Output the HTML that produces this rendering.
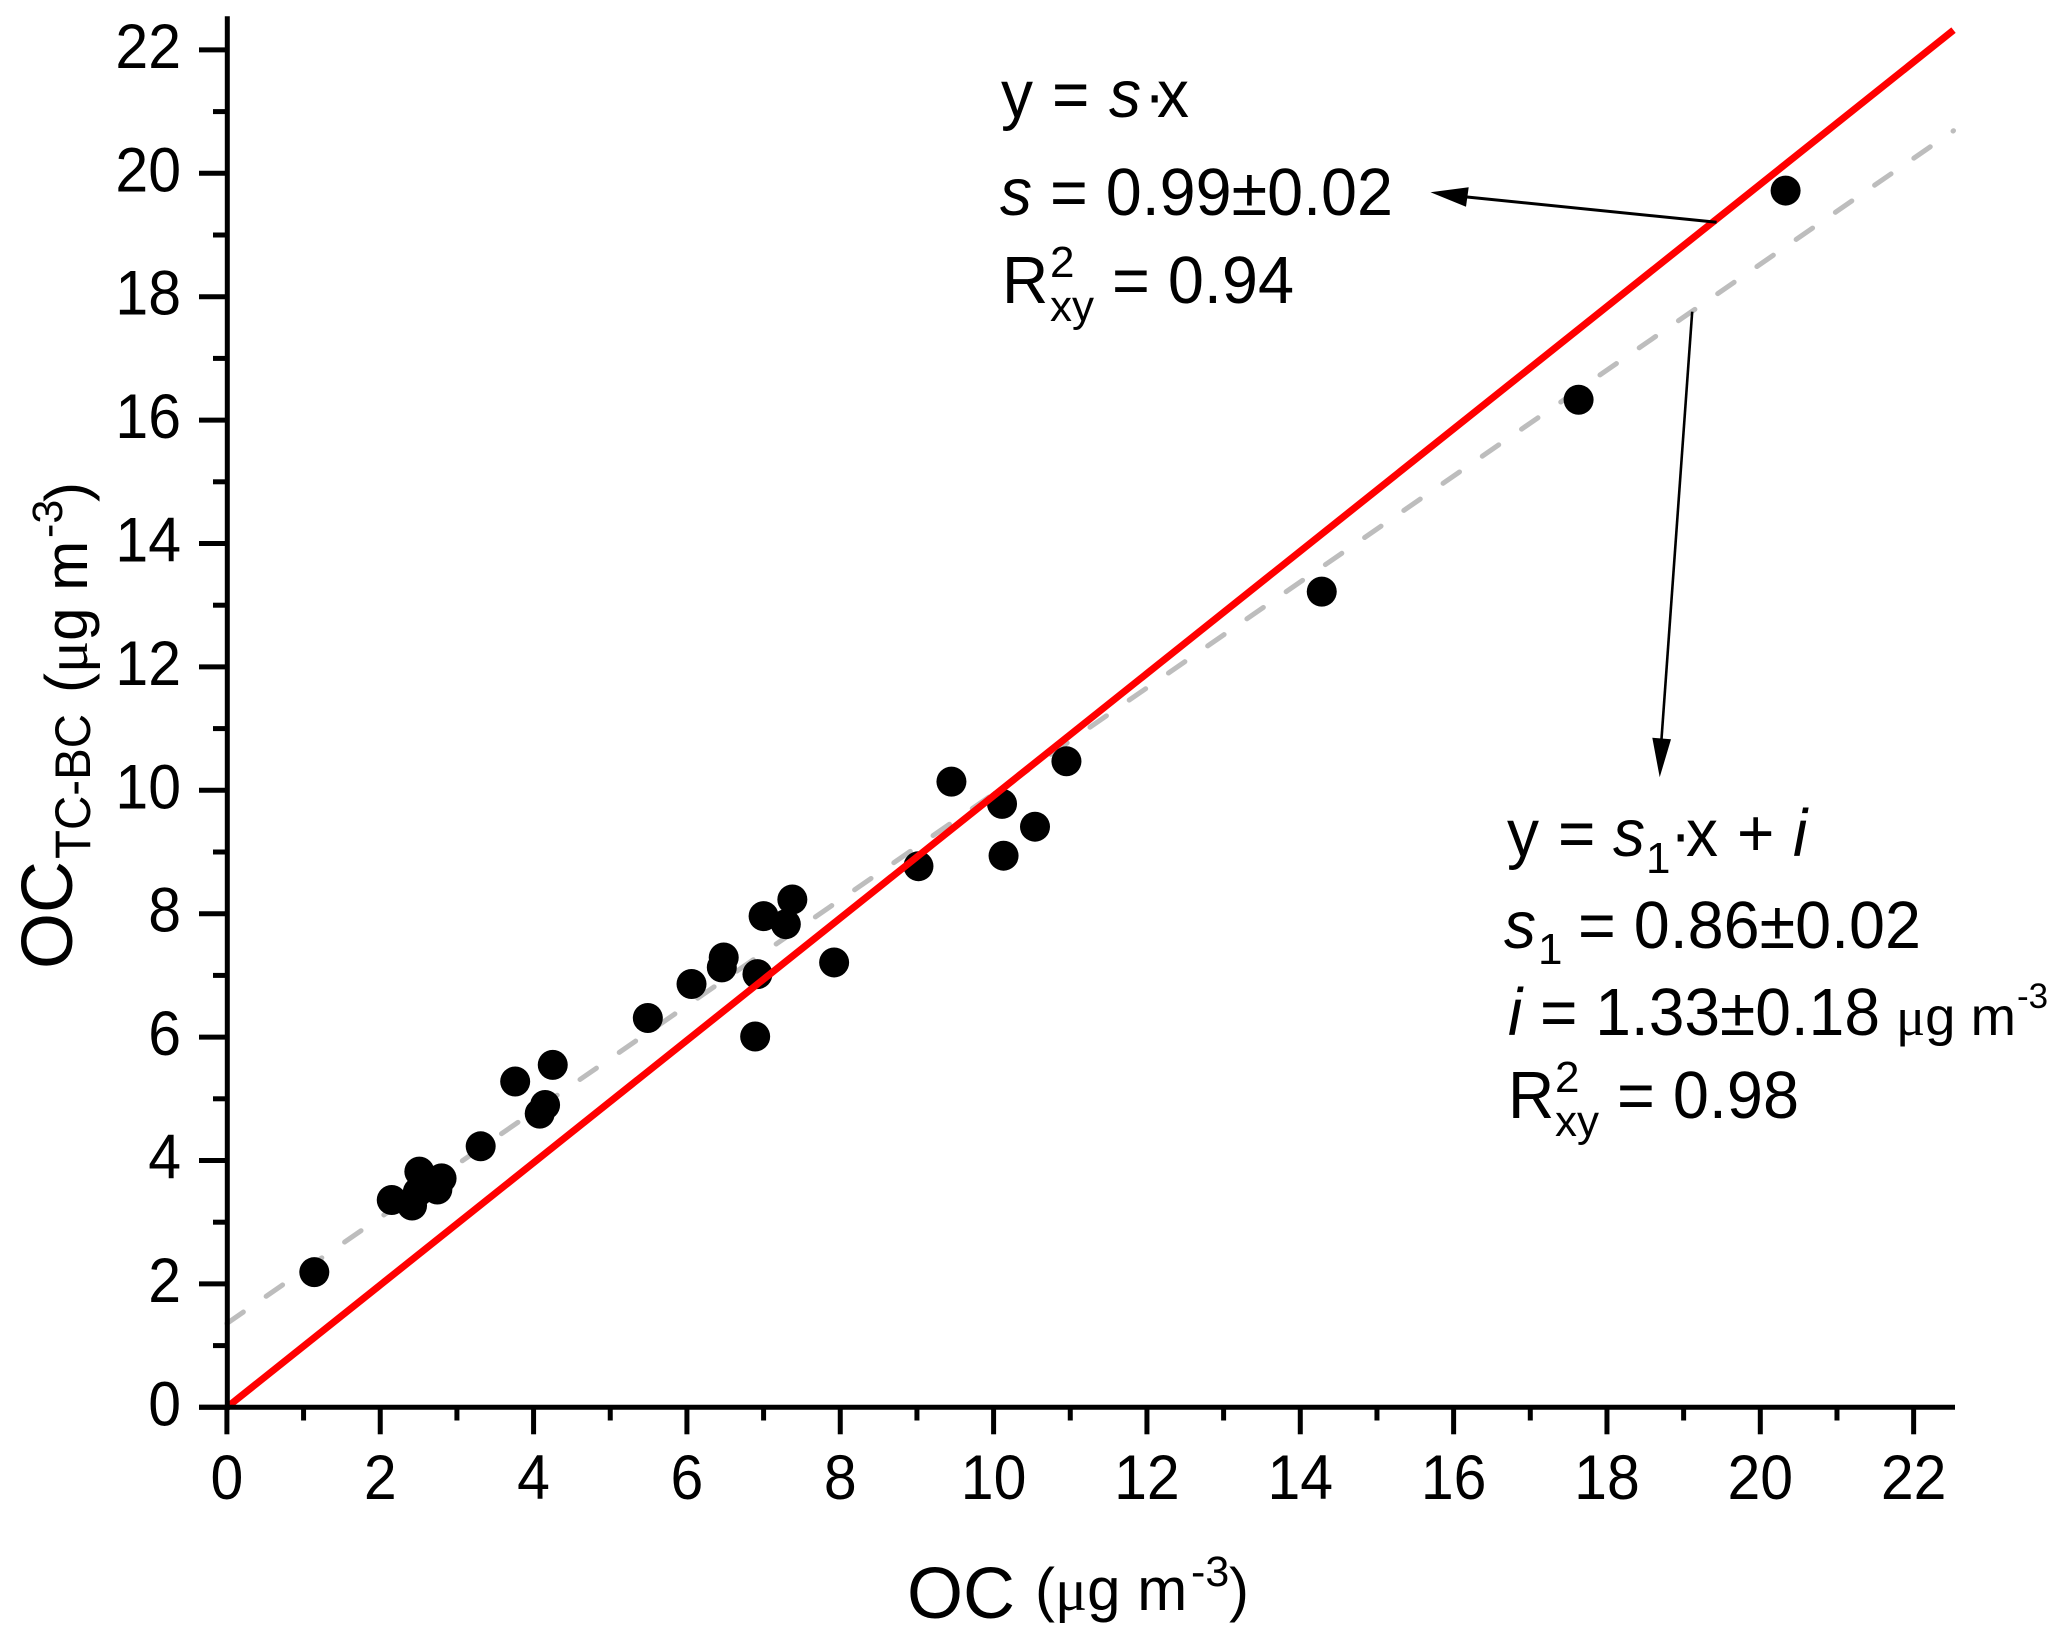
<!DOCTYPE html>
<html lang="en">
<head>
<meta charset="utf-8">
<title>OC TC-BC versus OC scatter chart</title>
<style>
html,body{margin:0;padding:0;background:#fff;}
svg{display:block;}
text{font-family:"Liberation Sans",sans-serif;fill:#000;}
.serif{font-family:"Liberation Serif",serif;}
.ann{font-size:67px;}
.sub{font-size:44px;}
</style>
</head>
<body>
<svg id="chart" xmlns="http://www.w3.org/2000/svg" width="2067" height="1641" viewBox="0 0 2067 1641">
  <rect x="0" y="0" width="2067" height="1641" fill="#ffffff"/>
  <g id="fit-gray-layer"></g>
  <g id="points-layer"></g>
  <g id="fit-red-layer"></g>
  <g id="axes-layer"></g>

  <g>
    <line x1="1716.6" y1="222.3" x2="1467" y2="197" stroke="#000" stroke-width="3"/>
    <polygon points="1430.5,192.3 1468.7,187.3 1466,206.7" fill="#000"/>
  </g>
  <g>
    <line x1="1692.2" y1="311.7" x2="1661.5" y2="739" stroke="#000" stroke-width="2.6"/>
    <polygon points="1659.7,777.3 1652.3,737.7 1671,739.3" fill="#000"/>
  </g>

  <g>
    <text class="ann" x="1001" y="117">y</text>
    <text class="ann" x="1052" y="117">=</text>
    <text class="ann" x="1109" y="117" font-style="italic">s</text>
    <text class="ann" x="1144" y="117">·</text>
    <text class="ann" x="1157" y="117">x</text>
    <text class="ann" x="1000" y="215" font-style="italic">s</text>
    <text class="ann" x="1050" y="215" textLength="343" lengthAdjust="spacingAndGlyphs">= 0.99±0.02</text>
    <text class="ann" x="1002" y="303">R</text>
    <text class="sub" x="1050" y="277">2</text>
    <text class="sub" x="1050" y="321" textLength="44" lengthAdjust="spacingAndGlyphs">xy</text>
    <text class="ann" x="1112" y="303" textLength="182" lengthAdjust="spacingAndGlyphs">= 0.94</text>
  </g>

  <g>
    <text class="ann" x="1507" y="856">y</text>
    <text class="ann" x="1558" y="856">=</text>
    <text class="ann" x="1613" y="856" font-style="italic">s</text>
    <text class="sub" x="1646" y="873">1</text>
    <text class="ann" x="1670" y="856">·</text>
    <text class="ann" x="1686" y="856">x</text>
    <text class="ann" x="1737" y="856">+</text>
    <text class="ann" x="1793" y="856" font-style="italic">i</text>
    <text class="ann" x="1504" y="948" font-style="italic">s</text>
    <text class="sub" x="1538" y="964">1</text>
    <text class="ann" x="1578" y="948" textLength="343" lengthAdjust="spacingAndGlyphs">= 0.86±0.02</text>
    <text class="ann" x="1508" y="1035" font-style="italic">i</text>
    <text class="ann" x="1540" y="1035" textLength="340" lengthAdjust="spacingAndGlyphs">= 1.33±0.18</text>
    <text x="1896" y="1035" font-size="54" textLength="120" lengthAdjust="spacingAndGlyphs"><tspan class="serif">μ</tspan>g m</text>
    <text x="2017" y="1008" font-size="35">-3</text>
    <text class="ann" x="1508" y="1118">R</text>
    <text class="sub" x="1555" y="1092">2</text>
    <text class="sub" x="1555" y="1136" textLength="44" lengthAdjust="spacingAndGlyphs">xy</text>
    <text class="ann" x="1617" y="1118" textLength="182" lengthAdjust="spacingAndGlyphs">= 0.98</text>
  </g>

  <g>
    <text x="907" y="1618" font-size="72">OC</text>
    <text x="1035" y="1610" font-size="60">(<tspan class="serif">μ</tspan>g m</text>
    <text x="1191" y="1586" font-size="43">-3</text>
    <text x="1229" y="1610" font-size="60">)</text>
  </g>

  <g>
    <text x="72" y="969" font-size="72" transform="rotate(-90 72 969)">OC</text>
    <text x="90" y="859" font-size="50" textLength="145" lengthAdjust="spacingAndGlyphs" transform="rotate(-90 90 859)">TC-BC</text>
    <text x="87" y="693" font-size="60" transform="rotate(-90 87 693)">(<tspan class="serif">μ</tspan>g m</text>
    <text x="62" y="538" font-size="43" transform="rotate(-90 62 538)">-3</text>
    <text x="87" y="502" font-size="60" transform="rotate(-90 87 502)">)</text>
  </g>
</svg>
<script>
var xValues = [1.14, 2.15, 2.415, 2.51, 2.49, 2.80, 2.745, 3.31, 3.76, 4.25, 4.15, 4.08, 5.49, 6.06, 6.48, 6.455, 6.92, 6.89, 7.00, 7.29, 7.375, 7.92, 9.02, 9.45, 10.11, 10.13, 10.54, 10.95, 14.28, 17.63, 20.33];
var yValues = [2.19, 3.36, 3.27, 3.82, 3.49, 3.71, 3.53, 4.23, 5.28, 5.55, 4.90, 4.76, 6.31, 6.86, 7.29, 7.13, 7.02, 6.01, 7.96, 7.83, 8.23, 7.21, 8.77, 10.14, 9.78, 8.94, 9.41, 10.47, 13.22, 16.33, 19.72];
var fitX = [0, 22.52];
var originFitY = [0, 22.32];
var interceptFitY = [1.36, 20.69];
var majorTicks = [0, 2, 4, 6, 8, 10, 12, 14, 16, 18, 20, 22];
var minorTicks = [1, 3, 5, 7, 9, 11, 13, 15, 17, 19, 21];
var tickLabels = ["0", "2", "4", "6", "8", "10", "12", "14", "16", "18", "20", "22"];

var NS = "http://www.w3.org/2000/svg";
function xScale(v) { return 226.9 + v * 76.67; }
function yScale(v) { return 1407.3 - v * 61.7; }
function makeLine(x1, y1, x2, y2, stroke, width) {
  var l = document.createElementNS(NS, "line");
  l.setAttribute("x1", x1);
  l.setAttribute("y1", y1);
  l.setAttribute("x2", x2);
  l.setAttribute("y2", y2);
  l.setAttribute("stroke", stroke);
  l.setAttribute("stroke-width", width);
  return l;
}
function makeLabel(txt, x, y, anchor) {
  var t = document.createElementNS(NS, "text");
  t.setAttribute("x", x);
  t.setAttribute("y", y);
  t.setAttribute("font-size", "63");
  t.setAttribute("text-anchor", anchor);
  t.setAttribute("textLength", 32.8 * txt.length);
  t.setAttribute("lengthAdjust", "spacingAndGlyphs");
  t.textContent = txt;
  return t;
}

var grayLayer = document.getElementById("fit-gray-layer");
var grayLine = makeLine(xScale(fitX[0]), yScale(interceptFitY[0]), xScale(fitX[1]), yScale(interceptFitY[1]), "#bdbdbd", 5);
grayLine.setAttribute("stroke-dasharray", "20 27.68");
grayLine.setAttribute("stroke-dashoffset", "0");
grayLine.setAttribute("stroke-linecap", "round");


grayLayer.appendChild(grayLine);

var pointsLayer = document.getElementById("points-layer");
for (var i = 0; i < xValues.length; i++) {
  var c = document.createElementNS(NS, "circle");
  c.setAttribute("cx", xScale(xValues[i]));
  c.setAttribute("cy", yScale(yValues[i]));
  c.setAttribute("r", 15);
  c.setAttribute("fill", "#000");
  
  
  pointsLayer.appendChild(c);
}

var redLayer = document.getElementById("fit-red-layer");
var redLine = makeLine(xScale(fitX[0]), yScale(originFitY[0]), xScale(fitX[1]), yScale(originFitY[1]), "#ff0000", 7);


redLayer.appendChild(redLine);

var axes = document.getElementById("axes-layer");
var yAxisLine = makeLine(227.3, 16.3, 227.3, 1410, "#000", 5);


axes.appendChild(yAxisLine);
var xAxisLine = makeLine(199, 1407.3, 1955, 1407.3, "#000", 5);


axes.appendChild(xAxisLine);

majorTicks.forEach(function (v, idx) {
  var xt = makeLine(xScale(v), 1407.3, xScale(v), 1434.3, "#000", 5);
  
  
  axes.appendChild(xt);
  var yt = makeLine(199, yScale(v), 227.3, yScale(v), "#000", 5);
  
  
  axes.appendChild(yt);
  var xl = makeLabel(tickLabels[idx], xScale(v), 1499, "middle");
  
  
  axes.appendChild(xl);
  var yl = makeLabel(tickLabels[idx], 181, yScale(v) + 18, "end");
  
  
  axes.appendChild(yl);
});
minorTicks.forEach(function (v) {
  var xt = makeLine(xScale(v), 1407.3, xScale(v), 1420.5, "#000", 5);
  
  
  axes.appendChild(xt);
  var yt = makeLine(213, yScale(v), 227.3, yScale(v), "#000", 5);
  
  
  axes.appendChild(yt);
});

document.querySelectorAll("text.ann").forEach(function (t) {
  if (!t.hasAttribute("textLength")) {
    t.setAttribute("textLength", (t.getComputedTextLength() * 64 / 67).toFixed(2));
    t.setAttribute("lengthAdjust", "spacingAndGlyphs");
  }
});
</script>
</body>
</html>
